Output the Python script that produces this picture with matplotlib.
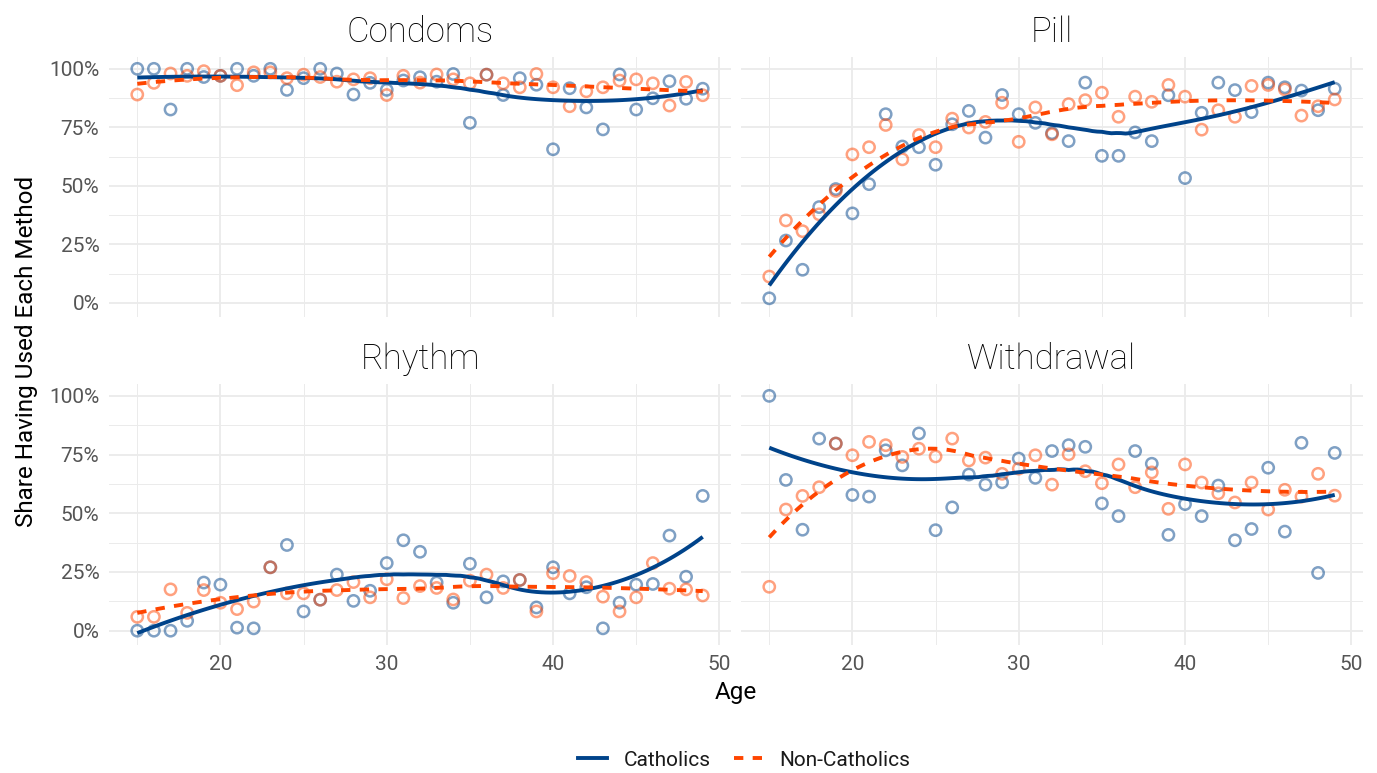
import numpy as np
import matplotlib
matplotlib.use("Agg")
import matplotlib.pyplot as plt
from matplotlib.ticker import FuncFormatter, MultipleLocator
from matplotlib.lines import Line2D

plt.rcParams["font.family"] = ["Roboto", "DejaVu Sans"]

ages = np.arange(15, 50)

condoms_catholic = [100, 100, 82.6, 100, 96.5, 97, 100, 97, 100, 91, 96, 100, 98, 89, 94, 91, 95,
                    96.4, 94.5, 97.8, 76.9, 97.5, 88.8, 96, 93.2, 65.6, 91.7, 83.5, 74.1, 97.6,
                    82.6, 87.4, 94.7, 87.2, 91.5]
condoms_other = [89, 94, 98, 97, 99, 97, 93, 98.5, 98.5, 96, 97.5, 96.5, 94.5, 95.5, 96, 88.8, 97,
                 94.1, 97.6, 95.5, 93.8, 97.5, 93.8, 92.1, 97.8, 92.1, 84, 90.4, 92.1, 95, 95.5,
                 93.8, 84.3, 94.4, 88.7]
pill_catholic = [1.9, 26.6, 14.1, 40.9, 48.6, 38.2, 50.7, 80.6, 66.8, 66.5, 59, 76.3, 82, 70.6,
                 88.8, 80.6, 76.9, 72.5, 69.1, 94.1, 62.8, 62.8, 72.8, 69.1, 88.7, 53.3, 81.2,
                 94.1, 90.9, 81.5, 94.1, 92.1, 90.7, 82.3, 91.5]
pill_other = [11.2, 35.2, 30.6, 37.8, 47.8, 63.4, 66.5, 76, 61.3, 71.7, 66.5, 78.7, 74.9, 77.3,
              85.5, 68.8, 83.5, 72, 84.9, 86.6, 89.8, 79.5, 88.1, 85.9, 93.1, 88.1, 74, 82.3,
              79.5, 92.7, 93.1, 91.2, 80, 84, 86.9]
rhythm_catholic = [0, 0, 0, 4.2, 20.5, 19.6, 1.3, 1, 27, 36.5, 8.2, 13.2, 23.9, 12.7, 17, 28.8,
                   38.5, 33.6, 20.5, 11.9, 28.5, 14.2, 21, 21.6, 9.9, 27, 15.9, 18.5, 1, 11.9,
                   19.6, 19.9, 40.5, 23, 57.4]
rhythm_other = [5.9, 5.9, 17.6, 7.6, 17.3, 11.9, 9.2, 12.4, 27, 15.9, 15.9, 13.2, 17.3, 20.7,
                14.2, 21.9, 13.9, 19, 18.2, 13.3, 21.3, 23.9, 18.2, 21.6, 8.2, 24.5, 23.3, 20.7,
                14.5, 8.2, 14.2, 28.8, 17.9, 17.6, 15]
withdrawal_catholic = [100, 64.2, 43, 81.8, 79.7, 57.8, 57.1, 76.8, 70.4, 84, 42.8, 52.5, 66.5,
                       62.2, 63.2, 73.3, 65.1, 76.5, 79, 78.3, 54.2, 48.8, 76.5, 71.1, 40.8,
                       53.9, 48.8, 61.8, 38.5, 43.3, 69.4, 42.2, 80, 24.6, 75.7]
withdrawal_other = [18.7, 51.6, 57.4, 61.1, 79.7, 74.7, 80.4, 79, 74, 77.5, 74.2, 81.8, 72.5,
                    73.7, 66.8, 69, 74.7, 62.2, 75.1, 67.9, 62.8, 70.8, 61.1, 67.4, 51.9, 70.8,
                    63.1, 58.5, 54.6, 63.1, 51.6, 60, 57.1, 66.8, 57.5]

methods = ["Condoms", "Pill", "Rhythm", "Withdrawal"]
groups = ["Catholics", "Non-Catholics"]
values = {
    "Condoms": (condoms_catholic, condoms_other),
    "Pill": (pill_catholic, pill_other),
    "Rhythm": (rhythm_catholic, rhythm_other),
    "Withdrawal": (withdrawal_catholic, withdrawal_other),
}

LINE_COLORS = ["#00438A", "#FF4500"]
W, H = 1377, 773


def loess(x, y, xs, span=0.75):
    # local quadratic fit with tricube weights, like R's loess defaults
    x = np.asarray(x, float)
    y = np.asarray(y, float)
    q = int(np.floor(len(x) * span))
    out = []
    for x0 in xs:
        d = np.abs(x - x0)
        h = np.sort(d)[q - 1]
        w = np.clip(1 - (d / h) ** 3, 0, None) ** 3
        X = np.column_stack([np.ones_like(x), x - x0, (x - x0) ** 2])
        sw = np.sqrt(w)
        beta = np.linalg.lstsq(X * sw[:, None], y * sw, rcond=None)[0]
        out.append(beta[0])
    return np.array(out)


grid_x = np.linspace(ages.min(), ages.max(), 120)
smooths = {m: [loess(ages, v, grid_x) for v in values[m]] for m in methods}

all_y = np.concatenate([np.concatenate([np.ravel(v) for v in values[m]] +
                                       list(smooths[m])) for m in methods])
lo, hi = all_y.min(), all_y.max()
pad = (hi - lo) * 0.05
ylim = (lo - pad, hi + pad)
xpad = (ages.max() - ages.min()) * 0.05
xlim = (ages.min() - xpad, ages.max() + xpad)

# panel boxes in pixels: (left, right, top, bottom)
boxes = [(109, 731, 57, 317), (741, 1363, 57, 317),
         (109, 731, 384, 645), (741, 1363, 384, 645)]

fig = plt.figure(figsize=(W / 100, H / 100), dpi=100, facecolor="white")

for i, (method, (l, r, t, b)) in enumerate(zip(methods, boxes)):
    ax = fig.add_axes([l / W, 1 - b / H, (r - l) / W, (b - t) / H])
    ax.set_xlim(*xlim)
    ax.set_ylim(*ylim)
    for s in ax.spines.values():
        s.set_visible(False)
    ax.xaxis.set_major_locator(MultipleLocator(10))
    ax.xaxis.set_minor_locator(MultipleLocator(5))
    ax.yaxis.set_major_locator(MultipleLocator(25))
    ax.yaxis.set_minor_locator(MultipleLocator(12.5))
    ax.grid(which="major", color="#EBEBEB", lw=1.3)
    ax.grid(which="minor", color="#EBEBEB", lw=0.7)
    ax.set_axisbelow(True)
    ax.tick_params(which="both", length=0, labelsize=15, labelcolor="#555555", pad=7)
    ax.yaxis.set_major_formatter(FuncFormatter(lambda v, p: f"{v:.0f}%"))
    if i % 2 == 1:
        ax.tick_params(labelleft=False)
    if i < 2:
        ax.tick_params(labelbottom=False)

    for vals, col in zip(values[method], LINE_COLORS):
        ax.scatter(ages, vals, s=66, facecolors="none", edgecolors=col,
                   linewidths=1.8, alpha=0.5, zorder=2)
    for k, (sm, col) in enumerate(zip(smooths[method], LINE_COLORS)):
        if k == 0:
            ax.plot(grid_x, sm, color=col, lw=2.8, zorder=3, solid_capstyle="butt")
        else:
            ax.plot(grid_x, sm, color=col, lw=2.8, zorder=4, dashes=(2.4, 2.4))

    ax.text(0.5, 1 + 15 / (b - t), method, transform=ax.transAxes, ha="center",
            va="baseline", fontsize=25, color="black", fontweight="light")

fig.text(736 / W, 1 - 692 / H, "Age", ha="center", va="center", fontsize=17.5,
         color="black")
fig.text(27 / W, 1 - 351 / H, "Share Having Used Each Method", ha="center", va="center",
         rotation=90, fontsize=17.5, color="black")

handles = [Line2D([], [], color=LINE_COLORS[0], lw=2.8),
           Line2D([], [], color=LINE_COLORS[1], lw=2.8, dashes=(2.4, 2.4))]
fig.legend(handles, groups, loc="center", bbox_to_anchor=(744 / W, 1 - 760 / H), ncol=2,
           frameon=False, fontsize=15, handlelength=1.4, handletextpad=0.8,
           columnspacing=1.1, labelcolor="#1A1A1A")

fig.savefig("out.png", dpi=100, facecolor="white")
